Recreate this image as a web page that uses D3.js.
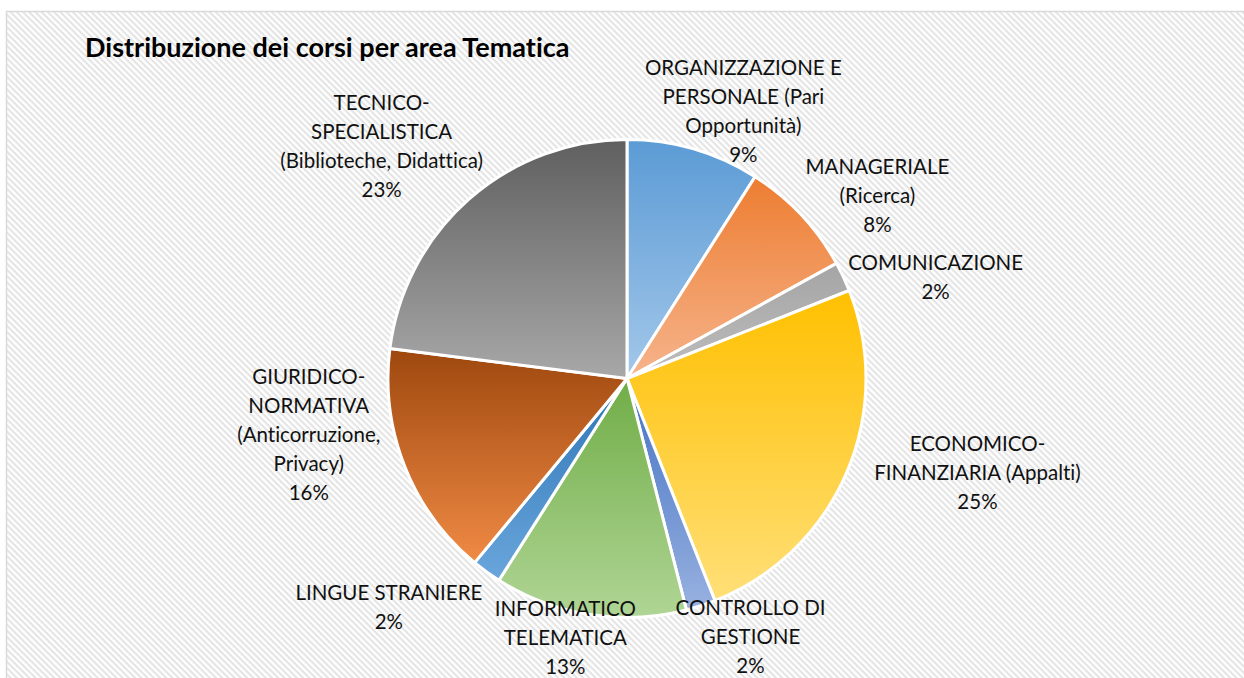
<!DOCTYPE html>
<html>
<head>
<meta charset="utf-8">
<script src="https://cdn.jsdelivr.net/npm/d3@7"></script>
<style>
  html, body { margin: 0; padding: 0; background: #ffffff; }
  svg { display: block; }
  text { font-variant-ligatures: none; font-feature-settings: "liga" 0, "clig" 0; }
</style>
</head>
<body>
<svg id="chart" width="1244" height="678"></svg>
<script>
// ---- data ----
const title = "Distribuzione dei corsi per area Tematica";
const categories = [
  "ORGANIZZAZIONE E\nPERSONALE (Pari\nOpportunità)",
  "MANAGERIALE\n(Ricerca)",
  "COMUNICAZIONE",
  "ECONOMICO-\nFINANZIARIA (Appalti)",
  "CONTROLLO DI\nGESTIONE",
  "INFORMATICO\nTELEMATICA",
  "LINGUE STRANIERE",
  "GIURIDICO-\nNORMATIVA\n(Anticorruzione,\nPrivacy)",
  "TECNICO-\nSPECIALISTICA\n(Biblioteche, Didattica)"
];
const values = [9, 8, 2, 25, 2, 13, 2, 16, 23];

// ---- styles / layout ----
const gradTop    = ["#5b9bd5", "#ed7d31", "#a5a5a5", "#ffc000", "#4472c4", "#70ad47", "#2e75b6", "#9e480e", "#5f5f5f"];
const gradBottom = ["#a3c7ea", "#f6b48c", "#bdbdbd", "#ffdf78", "#98b1e0", "#b0d595", "#6aa6dc", "#f08a45", "#a8a8a8"];
const labelNudge = [[20, 25], [18, 16], [6, 16], [29, -21], [24, -18], [-12, -28], [-38, 5], [-22, -62], [-15, -4]];

const W = 1244, H = 678;
const cx = 627, cy = 378.5, R = 239;
const fontFamily = "Lato, 'Open Sans', sans-serif";
const fontSize = 20.5, lineH = 29;

const svg = d3.select("#chart");
const defs = svg.append("defs");

// hatch background
const pat = defs.append("pattern")
  .attr("id", "hatch")
  .attr("patternUnits", "userSpaceOnUse")
  .attr("width", 4.4).attr("height", 4.4)
  .attr("patternTransform", "rotate(45)");
pat.append("rect").attr("width", 4.4).attr("height", 4.4).attr("fill", "#ffffff");
pat.append("rect").attr("width", 4.4).attr("height", 2.1).attr("fill", "#e4e4e4");

svg.append("rect").attr("x", 0).attr("y", 0).attr("width", W).attr("height", H).attr("fill", "#ffffff");
svg.append("rect")
  .attr("x", 6.5).attr("y", 11.5)
  .attr("width", W + 20).attr("height", H + 20)
  .attr("fill", "url(#hatch)")
  .attr("stroke", "#d9d9d9").attr("stroke-width", 1.5);

// gradients
values.forEach((v, i) => {
  const g = defs.append("linearGradient").attr("id", "g" + i)
    .attr("x1", 0).attr("y1", 0).attr("x2", 0).attr("y2", 1);
  g.append("stop").attr("offset", "0%").attr("stop-color", gradTop[i]);
  g.append("stop").attr("offset", "100%").attr("stop-color", gradBottom[i]);
});

const data = categories.map((c, i) => ({ name: c, value: values[i], i }));
const total = d3.sum(values);
const pie = d3.pie().value(d => d.value).sort(null);
const arc = d3.arc().innerRadius(0).outerRadius(R);
const arcs = pie(data);

const gPie = svg.append("g").attr("transform", `translate(${cx},${cy})`);
gPie.selectAll("path").data(arcs).enter().append("path")
  .attr("d", arc)
  .attr("fill", d => `url(#g${d.data.i})`)
  .attr("stroke", "#ffffff")
  .attr("stroke-width", 3)
  .attr("stroke-linejoin", "round");

// title
svg.append("text")
  .attr("x", 85).attr("y", 57)
  .attr("font-family", fontFamily)
  .attr("font-weight", "bold")
  .attr("font-size", 27)
  .attr("fill", "#000")
  .text(title);

// labels
const gLab = svg.append("g").attr("transform", `translate(${cx},${cy})`);
arcs.forEach(a => {
  const lines = a.data.name.split("\n").concat([Math.round(a.data.value / total * 100) + "%"]);
  const t = gLab.append("text")
    .attr("font-family", fontFamily)
    .attr("font-size", fontSize)
    .attr("fill", "#111111")
    .attr("text-anchor", "middle");
  lines.forEach((ln, k) => {
    t.append("tspan").attr("x", 0).attr("y", k * lineH).text(ln);
  });
  const bb = t.node().getBBox();
  const w = bb.width, h = lines.length * lineH;
  const mid = (a.startAngle + a.endAngle) / 2;
  const ux = Math.sin(mid), uy = -Math.cos(mid);
  const nd = labelNudge[a.data.i];
  const px = (R + 8) * ux + ux * w / 2 + nd[0];
  const py = (R + 8) * uy + uy * h / 2 + nd[1];
  const firstBase = py - h / 2 + lineH / 2 + 7.5;
  t.attr("transform", `translate(${px},${firstBase})`);
});
</script>
</body>
</html>
